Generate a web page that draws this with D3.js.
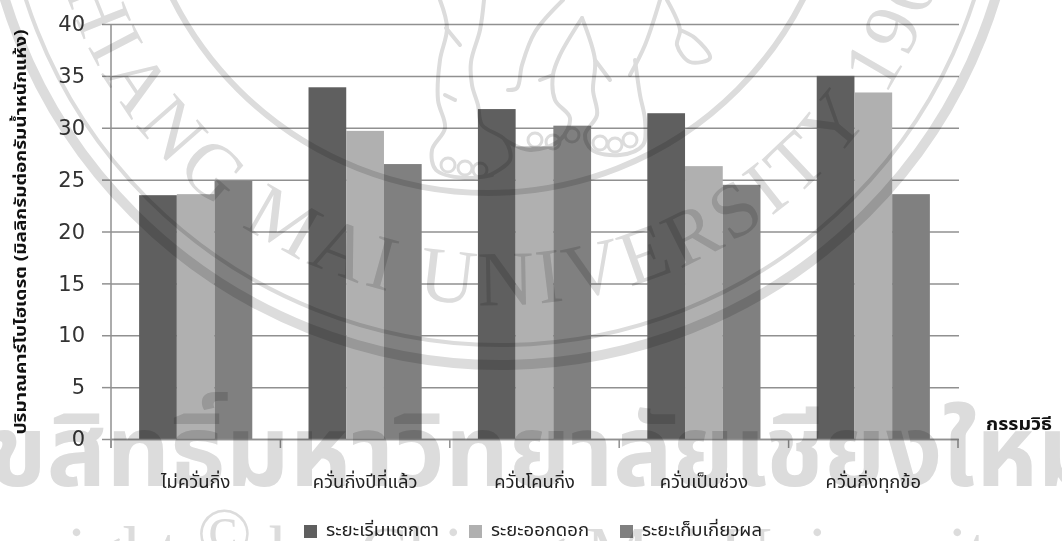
<!DOCTYPE html>
<html><head><meta charset="utf-8">
<script src="https://cdnjs.cloudflare.com/ajax/libs/d3/7.8.5/d3.min.js"></script>
<style>html,body{margin:0;padding:0;background:#fff;overflow:hidden}svg{display:block}</style>
</head><body><svg id="c" width="1062" height="541"></svg>
<script>
const categories=["ไม่ควั่นกิ่ง","ควั่นกิ่งปีที่แล้ว","ควั่นโคนกิ่ง","ควั่นเป็นช่วง","ควั่นกิ่งทุกข้อ"];
const seriesNames=["ระยะเริ่มแตกตา","ระยะออกดอก","ระยะเก็บเกี่ยวผล"];
const budBreak=[23.5,33.9,31.8,31.4,35.0];
const flowering=[23.6,29.7,28.2,26.3,33.4];
const harvest=[24.9,26.5,30.2,24.5,23.6];
const seriesColors=["#5f5f5f","#b0b0b0","#808080"];
const yTicks=[0,5,10,15,20,25,30,35,40];
const yTitle="ปริมาณคาร์โบไฮเดรต (มิลลิกรัมต่อกรัมน้ำหนักแห้ง)";
const xTitle="กรรมวิธี";
const wmArc="CHIANG MAI UNIVERSITY 1964";
const wmThai="ลิขสิทธิ์มหาวิทยาลัยเชียงใหม่";
// elephant outline of the background seal (decoration only)
const sealStrokes=[
 [[440,0],[447,28],[440,60],[438,100],[445,128],[432,150],[436,170],[465,178],[492,175]],
 [[446,28],[460,45]],[[445,95],[455,100]],
 [[484,0],[480,30],[471,62],[472,85],[478,105],[482,125],[505,140],[510,160],[490,175]],
 [[563,0],[535,32],[522,65],[517,88],[508,90]],
 [[582,18],[560,55],[553,75],[555,100],[570,118],[560,140],[530,150],[505,140]],
 [[553,75],[540,80]],
 [[582,18],[595,60],[593,90],[597,115],[585,135],[592,150],[620,155],[643,145],[645,120],[640,95],[635,60]],
 [[595,60],[610,80]],
 [[660,0],[645,45],[630,75]],
 [[667,0],[680,30],[677,45],[690,62],[710,58],[695,38],[680,30]]
];
const sealToes=[[448,165],[465,168],[480,170],[535,140],[553,142],[572,135],[600,143],[615,145],[630,140]];

const svg=d3.select("#c");
const thai="'Noto Sans Thai','DejaVu Sans','Noto Sans',sans-serif";
const x=d3.scaleBand().domain(categories).range([111,958]).paddingInner(0.332).paddingOuter(0.166);
const x1=d3.scaleBand().domain(d3.range(3)).range([0,x.bandwidth()]);
const y=d3.scaleLinear().domain([0,40]).range([439,24]);

const axisColor="#909090";
const gy=svg.append("g").attr("transform","translate(111,0)")
  .call(d3.axisLeft(y).tickValues(yTicks).tickSize(9).tickPadding(17));
gy.select(".domain").remove();
gy.selectAll("text").attr("font-family","'DejaVu Sans',sans-serif").attr("font-size",21).attr("fill","#333");
gy.selectAll("line").attr("stroke",axisColor).attr("stroke-width",1.5);
gy.selectAll(".tick").append("line").attr("x1",0).attr("x2",848).attr("stroke",axisColor).attr("stroke-width",1.5);
svg.append("line").attr("x1",111).attr("x2",111).attr("y1",24).attr("y2",448).attr("stroke",axisColor).attr("stroke-width",1.5);

[budBreak,flowering,harvest].forEach((vals,s)=>{
  svg.append("g").selectAll("rect").data(vals).join("rect")
    .attr("x",(d,i)=>x(categories[i])+x1(s)).attr("width",x1.bandwidth())
    .attr("y",d=>y(d)).attr("height",d=>y(0)-y(d)).attr("fill",seriesColors[s]);
});

const gx=svg.append("g").attr("transform","translate(0,439)")
  .call(d3.axisBottom(x).tickSize(0).tickPadding(36));
gx.select(".domain").attr("stroke",axisColor).attr("stroke-width",1.5);
gx.selectAll("text").attr("font-family",thai).attr("font-size",18.4).attr("fill","#222");
const step=x.step();
svg.append("g").selectAll("line").data(d3.range(6)).join("line")
  .attr("x1",i=>111+i*step).attr("x2",i=>111+i*step).attr("y1",439).attr("y2",448)
  .attr("stroke",axisColor).attr("stroke-width",1.5);

svg.append("text").attr("transform","translate(26,232) rotate(-90)").attr("text-anchor","middle")
  .attr("font-family",thai).attr("font-weight","bold").attr("font-size",16)
  .attr("textLength",405).attr("lengthAdjust","spacingAndGlyphs").attr("fill","#111").text(yTitle);
svg.append("text").attr("x",1019).attr("y",430).attr("text-anchor","middle")
  .attr("font-family",thai).attr("font-weight","bold").attr("font-size",18)
  .attr("textLength",66).attr("lengthAdjust","spacingAndGlyphs").attr("fill","#111").text(xTitle);

const legX=[304,469,620];
const legW=[113,98,120];
seriesNames.forEach((n,i)=>{
  svg.append("rect").attr("x",legX[i]).attr("y",525).attr("width",13).attr("height",13).attr("fill",seriesColors[i]);
  svg.append("text").attr("x",legX[i]+22).attr("y",536).attr("font-family",thai).attr("font-size",17)
    .attr("textLength",legW[i]).attr("lengthAdjust","spacingAndGlyphs").attr("fill","#222").text(n);
});

// watermark, multiplied over everything
const wm=svg.append("g").style("mix-blend-mode","multiply");
const cx=500,cy=-153,wc="#dcdcdc";
[[518,10],[498,4]].forEach(([r,w])=>wm.append("circle").attr("cx",cx).attr("cy",cy).attr("r",r)
  .attr("fill","none").attr("stroke",wc).attr("stroke-width",w));
wm.append("circle").attr("cx",488).attr("cy",-160).attr("r",353).attr("fill","none").attr("stroke",wc).attr("stroke-width",6);
const R=458;
wm.append("path").attr("id","arc").attr("fill","none")
  .attr("d",`M${cx-R},${cy} A${R},${R} 0 0 0 ${cx+R},${cy}`);
wm.append("text").attr("font-family","'Liberation Serif',serif").attr("font-size",78).attr("letter-spacing",5).attr("fill",wc)
  .append("textPath").attr("href","#arc").attr("startOffset","50%").attr("text-anchor","middle").text(wmArc);
const line=d3.line().curve(d3.curveCatmullRom);
wm.append("g").selectAll("path").data(sealStrokes).join("path").attr("d",line).attr("fill","none")
  .attr("stroke",wc).attr("stroke-width",4).attr("stroke-linecap","round");
wm.append("g").selectAll("circle").data(sealToes).join("circle").attr("cx",d=>d[0]).attr("cy",d=>d[1]).attr("r",7)
  .attr("fill","none").attr("stroke",wc).attr("stroke-width",3);
wm.append("text").attr("x",515).attr("y",486).attr("text-anchor","middle").attr("font-family",thai).attr("font-weight","bold")
  .attr("font-size",99).attr("fill",wc).text(wmThai);
const cp=wm.append("text").attr("x",-113).attr("y",576).attr("font-family","'Liberation Serif',serif")
  .attr("font-size",72).attr("fill",wc);
cp.append("tspan").text("Copyright ");
cp.append("tspan").attr("dy",-19).text("©");
cp.append("tspan").attr("dy",19).text(" by Chiang Mai University");
</script></body></html>
